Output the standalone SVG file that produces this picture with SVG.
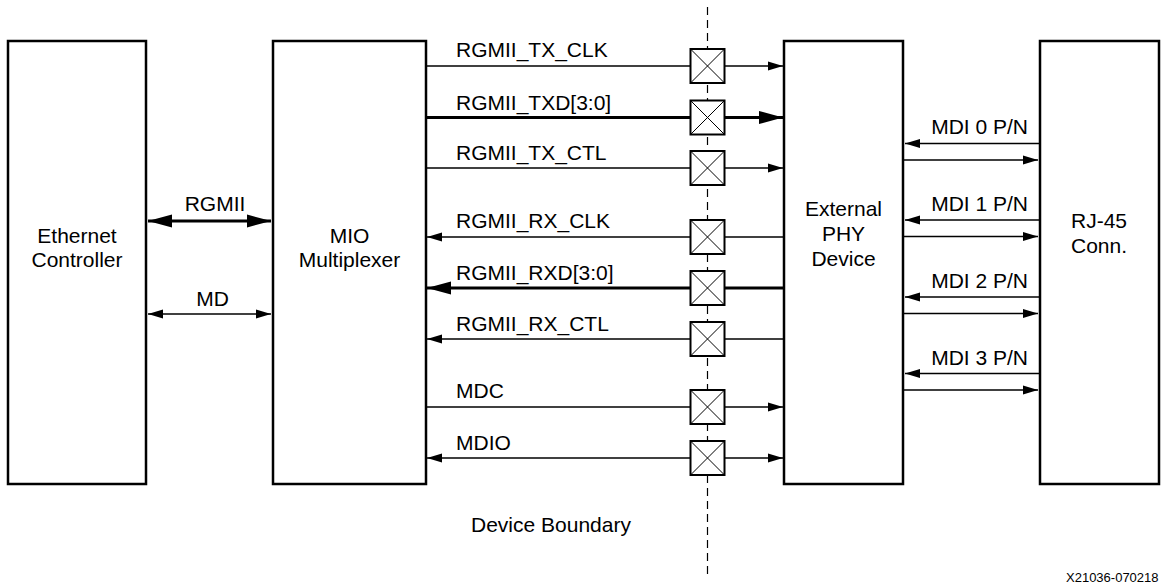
<svg xmlns="http://www.w3.org/2000/svg" width="1161" height="586" viewBox="0 0 1161 586">
<style>
text{font-family:"Liberation Sans",Arial,sans-serif;font-size:21px;fill:#000}
.c{text-anchor:middle}
.e{text-anchor:end}
.box{fill:#fff;stroke:#000;stroke-width:2.5}
.w{fill:none;stroke:#000;stroke-width:1.3}
.t{fill:none;stroke:#000;stroke-width:3}
.io{fill:#fff;stroke:#000;stroke-width:2}
.x{stroke:#000;stroke-width:1;fill:none}
</style>
<defs>
<marker id="a" markerUnits="userSpaceOnUse" markerWidth="16" markerHeight="10" refX="15" refY="5" orient="auto-start-reverse"><path d="M0,0.5 L15,5 L0,9.5 Z" fill="#000"/></marker>
<marker id="b" markerUnits="userSpaceOnUse" markerWidth="25" markerHeight="14" refX="24" refY="7" orient="auto-start-reverse"><path d="M0,0.5 L24,7 L0,13.5 Z" fill="#000"/></marker>
<g id="io"><rect class="io" x="-17" y="-17" width="34" height="34"/><path class="x" d="M-17,-17 L17,17 M17,-17 L-17,17"/></g>
</defs>

<line x1="707.5" y1="7" x2="707.5" y2="578" stroke="#000" stroke-width="1.2" stroke-dasharray="8,5"/>

<g id="ethernet-controller">
<rect class="box" x="8" y="41" width="138" height="443"/>
<text class="c" x="77" y="243">Ethernet</text>
<text class="c" x="77" y="267">Controller</text>
</g>
<g id="mio-multiplexer">
<rect class="box" x="273" y="41" width="153" height="443"/>
<text class="c" x="349.5" y="243">MIO</text>
<text class="c" x="349.5" y="267">Multiplexer</text>
</g>
<g id="external-phy">
<rect class="box" x="784" y="41" width="119" height="443"/>
<text class="c" x="843.5" y="216">External</text>
<text class="c" x="843.5" y="241">PHY</text>
<text class="c" x="843.5" y="266">Device</text>
</g>
<g id="rj45">
<rect class="box" x="1040" y="41" width="119" height="443"/>
<text class="c" x="1099" y="228">RJ-45</text>
<text class="c" x="1099" y="253">Conn.</text>
</g>

<g id="connectors">
<line class="t" x1="148" y1="221" x2="271" y2="221" marker-start="url(#b)" marker-end="url(#b)"/>
<line class="w" x1="148" y1="314" x2="271" y2="314" marker-start="url(#a)" marker-end="url(#a)"/>

<line class="w" x1="426" y1="66" x2="783" y2="66" marker-end="url(#a)"/>
<line class="t" x1="426" y1="117.5" x2="783" y2="117.5" marker-end="url(#b)"/>
<line class="w" x1="426" y1="168" x2="783" y2="168" marker-end="url(#a)"/>
<line class="w" x1="784" y1="237" x2="427" y2="237" marker-end="url(#a)"/>
<line class="t" x1="784" y1="288" x2="427" y2="288" marker-end="url(#b)"/>
<line class="w" x1="784" y1="339" x2="427" y2="339" marker-end="url(#a)"/>
<line class="w" x1="426" y1="407" x2="783" y2="407" marker-end="url(#a)"/>
<line class="w" x1="427" y1="458" x2="783" y2="458" marker-start="url(#a)" marker-end="url(#a)"/>

<line class="w" x1="1039" y1="143.5" x2="905" y2="143.5" marker-end="url(#a)"/>
<line class="w" x1="903" y1="160" x2="1038" y2="160" marker-end="url(#a)"/>
<line class="w" x1="1039" y1="220" x2="905" y2="220" marker-end="url(#a)"/>
<line class="w" x1="903" y1="236.5" x2="1038" y2="236.5" marker-end="url(#a)"/>
<line class="w" x1="1039" y1="297" x2="905" y2="297" marker-end="url(#a)"/>
<line class="w" x1="903" y1="313.5" x2="1038" y2="313.5" marker-end="url(#a)"/>
<line class="w" x1="1039" y1="373.5" x2="905" y2="373.5" marker-end="url(#a)"/>
<line class="w" x1="903" y1="390" x2="1038" y2="390" marker-end="url(#a)"/>

<use href="#io" x="707.5" y="66"/>
<use href="#io" x="707.5" y="117.5"/>
<use href="#io" x="707.5" y="168"/>
<use href="#io" x="707.5" y="237"/>
<use href="#io" x="707.5" y="288"/>
<use href="#io" x="707.5" y="339"/>
<use href="#io" x="707.5" y="407"/>
<use href="#io" x="707.5" y="458"/>
</g>

<g id="labels">
<text class="c" x="215" y="211">RGMII</text>
<text class="c" x="212.5" y="306">MD</text>
<text x="456" y="57">RGMII_TX_CLK</text>
<text x="456" y="110">RGMII_TXD[3:0]</text>
<text x="456" y="160">RGMII_TX_CTL</text>
<text x="456" y="228">RGMII_RX_CLK</text>
<text x="456" y="280">RGMII_RXD[3:0]</text>
<text x="456" y="331">RGMII_RX_CTL</text>
<text x="456" y="398">MDC</text>
<text x="456" y="450">MDIO</text>
<text class="e" x="1028" y="134">MDI 0 P/N</text>
<text class="e" x="1028" y="211">MDI 1 P/N</text>
<text class="e" x="1028" y="288">MDI 2 P/N</text>
<text class="e" x="1028" y="365">MDI 3 P/N</text>
<text x="471" y="532">Device Boundary</text>
<text x="1066" y="582" style="font-size:13px">X21036-070218</text>
</g>
</svg>
